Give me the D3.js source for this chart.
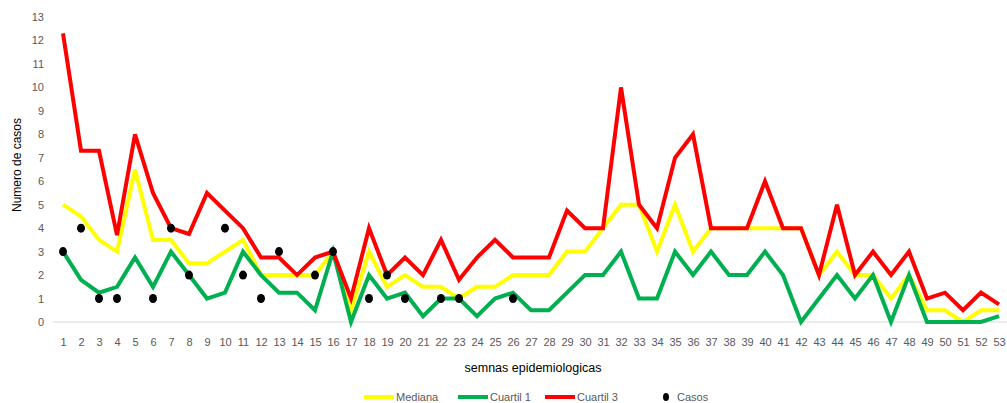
<!DOCTYPE html>
<html lang="es">
<head>
<meta charset="utf-8">
<title>Casos por semana epidemiologica</title>
<style>
  body { margin: 0; background: #fff; }
  svg { display: block; font-family: "Liberation Sans", Arial, sans-serif; }
  .tick text { fill: #595959; font-size: 11px; }
  .legend text { fill: #595959; font-size: 11px; }
</style>
<script src="https://d3js.org/d3.v7.min.js"></script>
</head>
<body>
<svg width="1007" height="403"></svg>
<script>
// semanas 1..53
var semanas = d3.range(1, 54);

var mediana = [5, 4.5, 3.5, 3, 6.5, 3.5, 3.5, 2.5, 2.5, 3,
  3.5, 2, 2, 2, 2, 3, 0.5, 3, 1.5, 2,
  1.5, 1.5, 1, 1.5, 1.5, 2, 2, 2, 3, 3,
  4, 5, 5, 3, 5, 3, 4, 4, 4, 4,
  4, 4, 2, 3, 2, 2, 1, 2, 0.5, 0.5,
  0, 0.5, 0.5];

var cuartil1 = [3, 1.8, 1.25, 1.5, 2.75, 1.5, 3, 2, 1, 1.25,
  3, 2, 1.25, 1.25, 0.5, 3, 0, 2, 1, 1.25,
  0.25, 1, 1, 0.25, 1, 1.25, 0.5, 0.5, 1.25, 2,
  2, 3, 1, 1, 3, 2, 3, 2, 2, 3,
  2, 0, 1, 2, 1, 2, 0, 2, 0, 0,
  0, 0, 0.25];

var cuartil3 = [12.3, 7.3, 7.3, 3.7, 8, 5.5, 4, 3.75, 5.5, 4.75,
  4, 2.75, 2.75, 2, 2.75, 3, 1, 4, 2, 2.75,
  2, 3.5, 1.8, 2.75, 3.5, 2.75, 2.75, 2.75, 4.75, 4,
  4, 10, 5, 4, 7, 8, 4, 4, 4, 6,
  4, 4, 2, 5, 2, 3, 2, 3, 1, 1.25,
  0.5, 1.25, 0.75];

var casosSemana = [1, 2, 3, 4, 6, 7, 8, 10, 11, 12, 13, 15, 16, 18, 19, 20, 22, 23, 26];
var casos       = [3, 4, 1, 1, 1, 4, 2, 4, 2, 1, 3, 2, 3, 1, 2, 1, 1, 1, 1];

var yTicks = d3.range(0, 14);

var svg = d3.select("svg");

// Ejes
var x = d3.scaleLinear().domain([1, 53]).range([63, 999]);
var y = d3.scaleLinear().domain([0, 13]).range([322, 17]);

// linea base
svg.append("line")
  .attr("x1", 53).attr("x2", 1007)
  .attr("y1", y(0)).attr("y2", y(0))
  .attr("stroke", "#d9d9d9").attr("stroke-width", 1);

var yAxis = svg.append("g")
  .attr("transform", "translate(44,0)")
  .call(d3.axisLeft(y).tickValues(yTicks).tickSize(0).tickPadding(0).tickFormat(d3.format("d")));
yAxis.select(".domain").remove();

var xAxis = svg.append("g")
  .attr("transform", "translate(0," + (y(0) + 16) + ")")
  .call(d3.axisBottom(x).tickValues(semanas).tickSize(0).tickPadding(0).tickFormat(d3.format("d")));
xAxis.select(".domain").remove();

// titulos
svg.append("text")
  .attr("transform", "translate(21,165) rotate(-90)")
  .attr("text-anchor", "middle")
  .attr("font-size", 12).attr("fill", "#000")
  .text("Numero de casos");

svg.append("text")
  .attr("x", 533).attr("y", 372)
  .attr("text-anchor", "middle")
  .attr("font-size", 12.5).attr("fill", "#000")
  .text("semnas epidemiologicas");

// series
var series = [
  { nombre: "Mediana", valores: mediana, color: "#ffff00" },
  { nombre: "Cuartil 1", valores: cuartil1, color: "#00b050" },
  { nombre: "Cuartil 3", valores: cuartil3, color: "#ff0000" }
];

var line = d3.line()
  .x(function(d, i) { return x(semanas[i]); })
  .y(function(d) { return y(d); });

svg.append("g").selectAll("path")
  .data(series)
  .enter().append("path")
    .attr("d", function(d) { return line(d.valores); })
    .attr("fill", "none")
    .attr("stroke", function(d) { return d.color; })
    .attr("stroke-width", 4)
    .attr("stroke-linejoin", "miter");

svg.append("g").selectAll("ellipse")
  .data(casos)
  .enter().append("ellipse")
    .attr("cx", function(d, i) { return x(casosSemana[i]); })
    .attr("cy", function(d) { return y(d); })
    .attr("rx", 4).attr("ry", 4.5)
    .attr("fill", "#000");

// leyenda
var legend = svg.append("g").attr("class", "legend");
var legX = [364, 458, 545];
series.forEach(function(s, i) {
  legend.append("line")
    .attr("x1", legX[i]).attr("x2", legX[i] + 30)
    .attr("y1", 397).attr("y2", 397)
    .attr("stroke", s.color).attr("stroke-width", 4);
  legend.append("text")
    .attr("x", legX[i] + 32).attr("y", 401)
    .text(s.nombre);
});
legend.append("ellipse")
  .attr("cx", 666).attr("cy", 397).attr("rx", 3).attr("ry", 4)
  .attr("fill", "#000");
legend.append("text")
  .attr("x", 677).attr("y", 401)
  .text("Casos");
</script>
</body>
</html>
